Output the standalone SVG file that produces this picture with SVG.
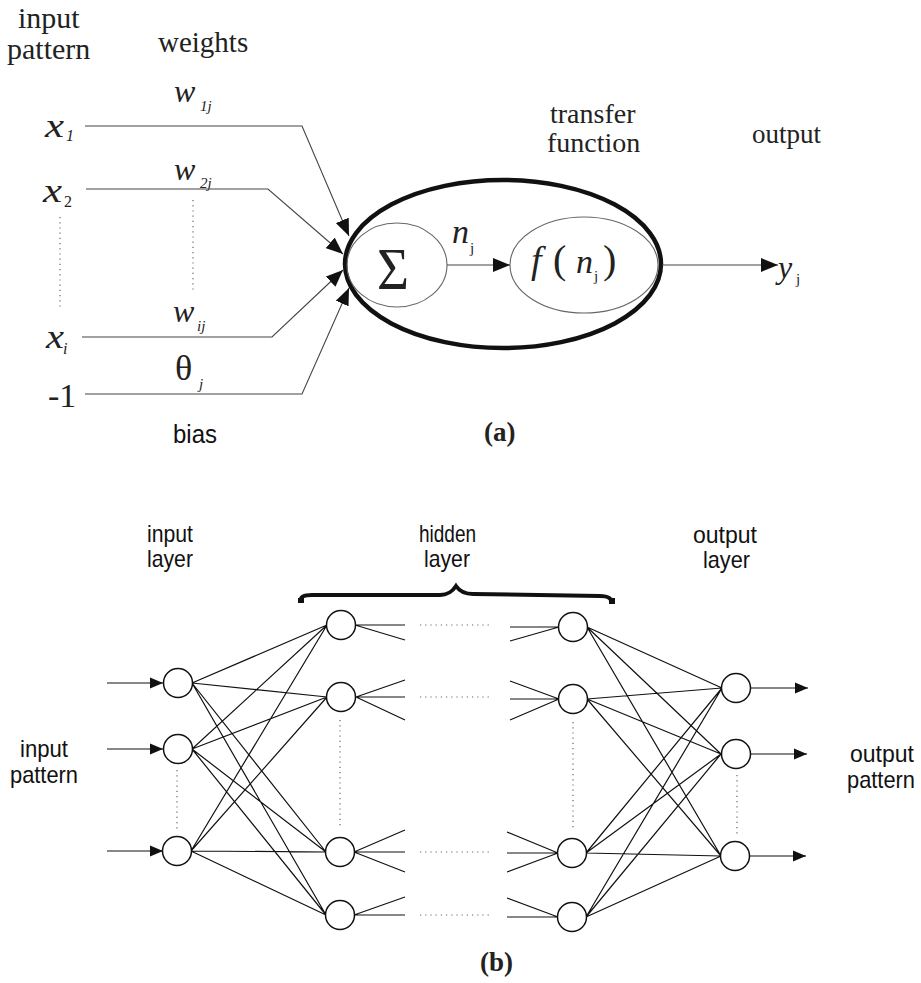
<svg xmlns="http://www.w3.org/2000/svg" width="921" height="983" viewBox="0 0 921 983">
<style>
.serif{font-family:"Liberation Serif","Times New Roman",serif;fill:#222}
.it{font-style:italic}
.sans{font-family:"Liberation Sans",Arial,sans-serif;fill:#111}
.thin{fill:none;stroke:#444;stroke-width:1.1}
.dot{fill:none;stroke:#666;stroke-width:1.2;stroke-dasharray:1.2 4}
.net{fill:none;stroke:#111;stroke-width:1.2}
.node{fill:#fff;stroke:#111;stroke-width:1.5}
</style>
<defs>
<marker id="ah" markerWidth="18" markerHeight="14" refX="17" refY="7" orient="auto" markerUnits="userSpaceOnUse"><path d="M0,0 L17,7 L0,14 z" fill="#111"/></marker>
<marker id="ab" markerWidth="14" markerHeight="12" refX="13" refY="6" orient="auto" markerUnits="userSpaceOnUse"><path d="M0,0.5 L13,6 L0,11.5 z" fill="#111"/></marker>
</defs>
<rect width="921" height="983" fill="#fff"/>

<!-- Part (a) labels -->
<g id="a-labels">
<text class="serif" x="18" y="28" font-size="30">input</text>
<text class="serif" x="7" y="59" font-size="30">pattern</text>
<text class="serif" x="158" y="52" font-size="29">weights</text>
<text class="serif" x="550" y="123" font-size="28">transfer</text>
<text class="serif" x="547" y="152" font-size="28">function</text>
<text class="serif" x="752" y="143" font-size="27">output</text>
<text class="sans" x="173" y="443" font-size="26" textLength="44" lengthAdjust="spacingAndGlyphs">bias</text>
<text class="serif" x="484" y="441" font-size="27" font-weight="bold">(a)</text>
</g>

<g id="a-inputs">
<text class="serif it" x="45" y="137" font-size="34" textLength="19" lengthAdjust="spacingAndGlyphs">x</text>
<text class="serif it" x="66" y="141" font-size="16">1</text>
<text class="serif it" x="43" y="202" font-size="34" textLength="19" lengthAdjust="spacingAndGlyphs">x</text>
<text class="serif" x="64" y="207" font-size="16">2</text>
<text class="serif it" x="46" y="348" font-size="34" textLength="18" lengthAdjust="spacingAndGlyphs">x</text>
<text class="serif it" x="63" y="354" font-size="16">i</text>
<text class="serif" x="48" y="407" font-size="34">-1</text>
<text class="serif it" x="174" y="102" font-size="32">w</text>
<text class="serif it" x="200" y="111" font-size="15">1j</text>
<text class="serif it" x="174" y="180" font-size="32">w</text>
<text class="serif it" x="200" y="188" font-size="15">2j</text>
<text class="serif it" x="173" y="322" font-size="32">w</text>
<text class="serif it" x="197" y="331" font-size="15">ij</text>
<text class="serif" x="175" y="380" font-size="36">θ</text>
<text class="serif it" x="199" y="389" font-size="15">j</text>
<line class="dot" x1="60" y1="217" x2="60" y2="307"/>
<line class="dot" x1="193" y1="200" x2="193" y2="290"/>
</g>

<g id="neuron">
<ellipse cx="503" cy="264" rx="158" ry="84" fill="none" stroke="#111" stroke-width="4.5"/>
</g>
<g id="sum">
<ellipse cx="397" cy="265" rx="50" ry="42" fill="none" stroke="#666" stroke-width="1.1"/>
<text x="393" y="289" font-family="'Liberation Serif','DejaVu Serif',serif" font-size="60" fill="#222" text-anchor="middle" textLength="32" lengthAdjust="spacingAndGlyphs">Σ</text>
</g>
<g id="transfer">
<ellipse cx="584" cy="265" rx="74" ry="48" fill="none" stroke="#666" stroke-width="1.1"/>
<text class="serif it" x="531" y="273" font-size="38">f</text>
<text class="serif" x="553" y="273" font-size="40">(</text>
<text class="serif it" x="576" y="273" font-size="34">n</text>
<text class="serif" x="594" y="281" font-size="15">j</text>
<text class="serif" x="603" y="273" font-size="40">)</text>
</g>
<g id="nj">
<text class="serif it" x="452" y="243" font-size="34">n</text>
<text class="serif" x="470" y="253" font-size="15">j</text>
</g>
<g id="yj">
<text class="serif it" x="778" y="278" font-size="32">y</text>
<text class="serif" x="796" y="284" font-size="15">j</text>
</g>

<g id="a-connectors">
<polyline class="thin" points="85,126 302,126 349,236" marker-end="url(#ah)"/>
<polyline class="thin" points="86,189 268,189 343,254" marker-end="url(#ah)"/>
<polyline class="thin" points="82,337 272,337 343,270" marker-end="url(#ah)"/>
<polyline class="thin" points="85,394 302,394 349,288" marker-end="url(#ah)"/>
<line class="thin" x1="447" y1="265" x2="510" y2="265" marker-end="url(#ah)"/>
<line class="thin" x1="662" y1="265" x2="778" y2="265" marker-end="url(#ah)"/>
</g>

<!-- Part (b) -->
<g id="b-labels">
<text class="sans" x="147" y="542" font-size="24" textLength="46" lengthAdjust="spacingAndGlyphs">input</text>
<text class="sans" x="147" y="567" font-size="24" textLength="46" lengthAdjust="spacingAndGlyphs">layer</text>
<text class="sans" x="419" y="542" font-size="24" textLength="57" lengthAdjust="spacingAndGlyphs">hidden</text>
<text class="sans" x="424" y="567" font-size="24" textLength="46" lengthAdjust="spacingAndGlyphs">layer</text>
<text class="sans" x="693" y="543" font-size="24" textLength="64" lengthAdjust="spacingAndGlyphs">output</text>
<text class="sans" x="703" y="568" font-size="24" textLength="47" lengthAdjust="spacingAndGlyphs">layer</text>
<text class="sans" x="20" y="757" font-size="24" textLength="48" lengthAdjust="spacingAndGlyphs">input</text>
<text class="sans" x="10" y="783" font-size="24" textLength="68" lengthAdjust="spacingAndGlyphs">pattern</text>
<text class="sans" x="850" y="762" font-size="24" textLength="64" lengthAdjust="spacingAndGlyphs">output</text>
<text class="sans" x="847" y="788" font-size="24" textLength="68" lengthAdjust="spacingAndGlyphs">pattern</text>
<text class="serif" x="480" y="971" font-size="27" font-weight="bold">(b)</text>
<path d="M300,603 C300,596 304,595 312,595 L440,595 C448,595 452,592 456,586 C460,592 465,594 473,594 L600,596 C608,596 612,598 612,604" fill="none" stroke="#111" stroke-width="4"/>
<path d="M298,603 L304,603 L304,598 L298,598 z M609,604 L615,604 L615,598 L609,598 z" fill="#111"/>
</g>

<g id="b-connectors">
<line class="net" x1="107" y1="683" x2="163" y2="683" marker-end="url(#ab)"/>
<line class="net" x1="107" y1="749" x2="163" y2="749" marker-end="url(#ab)"/>
<line class="net" x1="107" y1="851" x2="163" y2="851" marker-end="url(#ab)"/>
<line class="net" x1="751" y1="688" x2="808" y2="688" marker-end="url(#ab)"/>
<line class="net" x1="750" y1="754" x2="807" y2="754" marker-end="url(#ab)"/>
<line class="net" x1="750" y1="856" x2="806" y2="856" marker-end="url(#ab)"/>
<path class="net" d="M192,683 L327,625 M192,683 L327,697 M192,683 L326,852 M192,683 L326,915
M192,749 L327,625 M192,749 L327,697 M192,749 L326,852 M192,749 L326,915
M191,851 L327,625 M191,851 L327,697 M191,851 L326,852 M191,851 L326,915"/>
<path class="net" d="M587,627 L722,688 M587,627 L721,754 M587,627 L721,856
M587,699 L722,688 M587,699 L721,754 M587,699 L721,856
M586,853 L722,688 M586,853 L721,754 M586,853 L721,856
M586,917 L722,688 M586,917 L721,754 M586,917 L721,856"/>
<path class="net" d="M355,625 L405,625 M355,625 L405,640
M356,697 L405,680 M356,697 L405,697 M356,697 L405,720
M354,852 L405,830 M354,852 L405,852 M354,852 L405,872
M354,915 L405,897 M354,915 L405,915"/>
<path class="net" d="M559,627 L510,627 M559,627 L510,641
M559,699 L510,681 M559,699 L510,699 M559,699 L510,720
M558,853 L507,832 M558,853 L507,853 M558,853 L507,872
M558,917 L507,898 M558,917 L507,917"/>
<g class="dot">
<line x1="420" y1="625" x2="492" y2="625"/>
<line x1="420" y1="697" x2="492" y2="697"/>
<line x1="420" y1="852" x2="492" y2="852"/>
<line x1="420" y1="915" x2="492" y2="915"/>
<line x1="177" y1="770" x2="177" y2="830"/>
<line x1="340" y1="720" x2="340" y2="828"/>
<line x1="573" y1="722" x2="573" y2="830"/>
<line x1="737" y1="775" x2="737" y2="834"/>
</g>
</g>

<g id="input-layer">
<circle class="node" cx="178" cy="683" r="14.5"/>
<circle class="node" cx="178" cy="749" r="14.5"/>
<circle class="node" cx="177" cy="851" r="14.5"/>
</g>
<g id="hidden-layer-1">
<circle class="node" cx="341" cy="625" r="14.5"/>
<circle class="node" cx="341" cy="697" r="14.5"/>
<circle class="node" cx="340" cy="852" r="14.5"/>
<circle class="node" cx="340" cy="915" r="14.5"/>
</g>
<g id="hidden-layer-n">
<circle class="node" cx="573" cy="627" r="14.5"/>
<circle class="node" cx="573" cy="699" r="14.5"/>
<circle class="node" cx="572" cy="853" r="14.5"/>
<circle class="node" cx="572" cy="917" r="14.5"/>
</g>
<g id="output-layer">
<circle class="node" cx="736" cy="688" r="14.5"/>
<circle class="node" cx="736" cy="754" r="14.5"/>
<circle class="node" cx="735" cy="856" r="14.5"/>
</g>
</svg>
